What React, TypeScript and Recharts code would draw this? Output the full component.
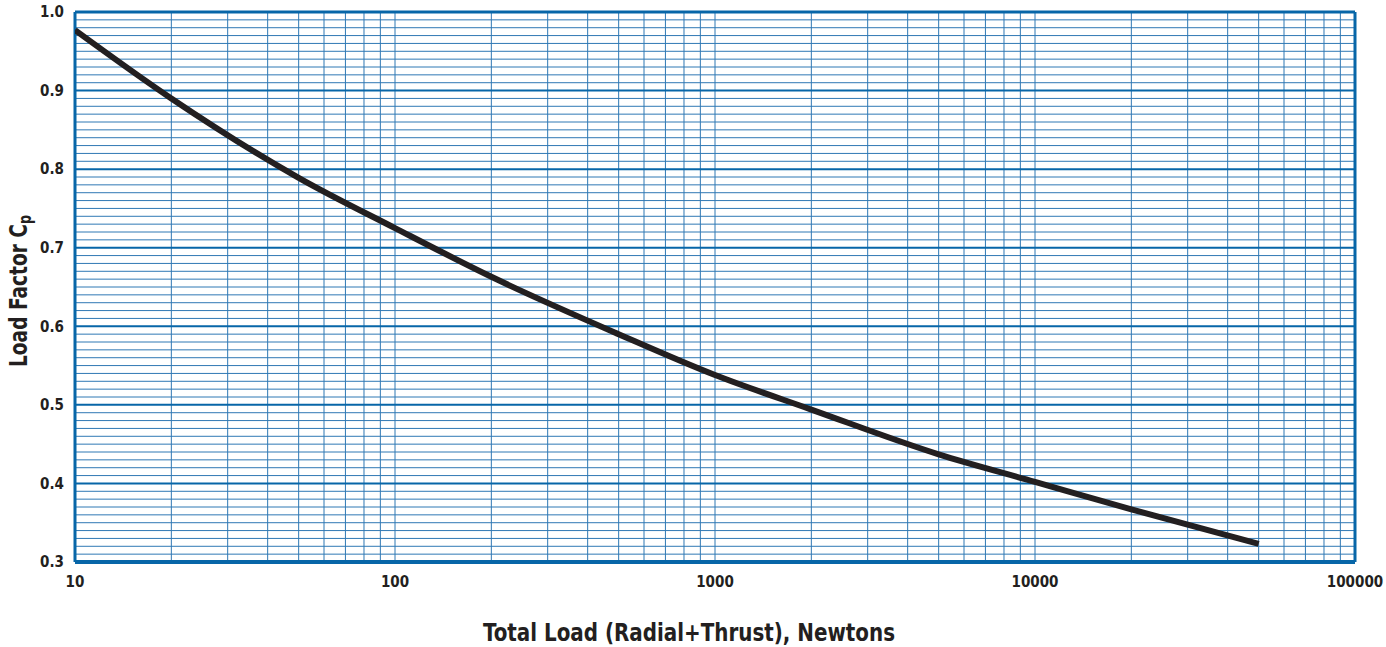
import React from 'react';
import { LineChart, Line, XAxis, YAxis, ReferenceLine } from 'recharts';

// total load (N) vs load factor Cp
const loads = [10, 20, 50, 100, 200, 500, 1000, 2000, 5000, 10000, 20000, 50000];
const loadFactor = [0.977, 0.890, 0.789, 0.725, 0.663, 0.590, 0.538, 0.494, 0.437, 0.402, 0.367, 0.323];

const xTicks = [10, 100, 1000, 10000, 100000];
const yTicks = [0.3, 0.4, 0.5, 0.6, 0.7, 0.8, 0.9, 1.0];
const decades = [10, 100, 1000, 10000];
const multipliers = [2, 3, 4, 5, 6, 7, 8, 9];
const yMinorSteps = [1, 2, 3, 4, 5, 6, 7, 8, 9];

const data = loads.map((x, i) => ({ x, cp: loadFactor[i] }));

const xGrid: number[] = [];
decades.forEach(d => {
  xGrid.push(d);
  multipliers.forEach(m => xGrid.push(d * m));
});
const yMinor: number[] = [];
yTicks.slice(0, -1).forEach(t => {
  yMinorSteps.forEach(s => yMinor.push(Math.round((t + s / 100) * 100) / 100));
});

const FONT = '"Liberation Sans Narrow", "DejaVu Sans Condensed", "Roboto Condensed", sans-serif';
const BORDER = '#0766a8';
const MINOR = '#2f78b4';
const INK = '#231f20';

const YTitle = () => (
  <text
    x={27}
    y={291}
    transform="rotate(-90, 27, 291)"
    textAnchor="middle"
    fontFamily={FONT}
    fontWeight="bold"
    fontSize={25}
    fill={INK}
    textLength={152}
    lengthAdjust="spacingAndGlyphs"
  >
    Load Factor C
    <tspan fontSize={17} dy={4}>p</tspan>
  </text>
);

const XTitle = () => (
  <text
    x={689}
    y={641}
    textAnchor="middle"
    fontFamily={FONT}
    fontWeight="bold"
    fontSize={25}
    fill={INK}
    textLength={412}
    lengthAdjust="spacingAndGlyphs"
  >
    Total Load (Radial+Thrust), Newtons
  </text>
);

export default function App() {
  return (
    <div style={{ position: 'absolute', left: 0, top: 0, width: 1386, height: 647, background: '#fff' }}>
      <LineChart width={1386} height={647} data={data} margin={{ top: 12, right: 31, bottom: 55, left: 30 }}>
        <XAxis
          dataKey="x"
          type="number"
          scale="log"
          domain={[10, 100000]}
          ticks={xTicks}
          allowDataOverflow
          axisLine={false}
          tickLine={false}
          height={30}
          tickMargin={8}
          tick={{ fontFamily: FONT, fontWeight: 'bold', fontSize: 15, fill: INK }}
        />
        <YAxis
          type="number"
          domain={[0.3, 1.0]}
          ticks={yTicks}
          allowDataOverflow
          axisLine={false}
          tickLine={false}
          width={45}
          tickMargin={5}
          tickFormatter={(v: number) => v.toFixed(1)}
          tick={{ fontFamily: FONT, fontWeight: 'bold', fontSize: 15, fill: INK }}
        />
        {yMinor.map(v => (
          <ReferenceLine key={'ym' + v} y={v} stroke={MINOR} strokeWidth={1} />
        ))}
        {xGrid.map(v => (
          <ReferenceLine key={'xg' + v} x={v} stroke={MINOR} strokeWidth={1} />
        ))}
        {yTicks.map(v => (
          <ReferenceLine key={'yM' + v} y={v} stroke={BORDER} strokeWidth={2} />
        ))}
        <ReferenceLine x={10} stroke={BORDER} strokeWidth={3} />
        <ReferenceLine x={100000} stroke={BORDER} strokeWidth={3} />
        <ReferenceLine y={0.3} stroke={BORDER} strokeWidth={4} />
        <ReferenceLine y={1.0} stroke={BORDER} strokeWidth={3} />
        <Line
          dataKey="cp"
          type="monotone"
          stroke={INK}
          strokeWidth={6}
          strokeLinecap="butt"
          dot={false}
          activeDot={false}
          isAnimationActive={false}
        />
        <YTitle />
        <XTitle />
      </LineChart>
    </div>
  );
}
